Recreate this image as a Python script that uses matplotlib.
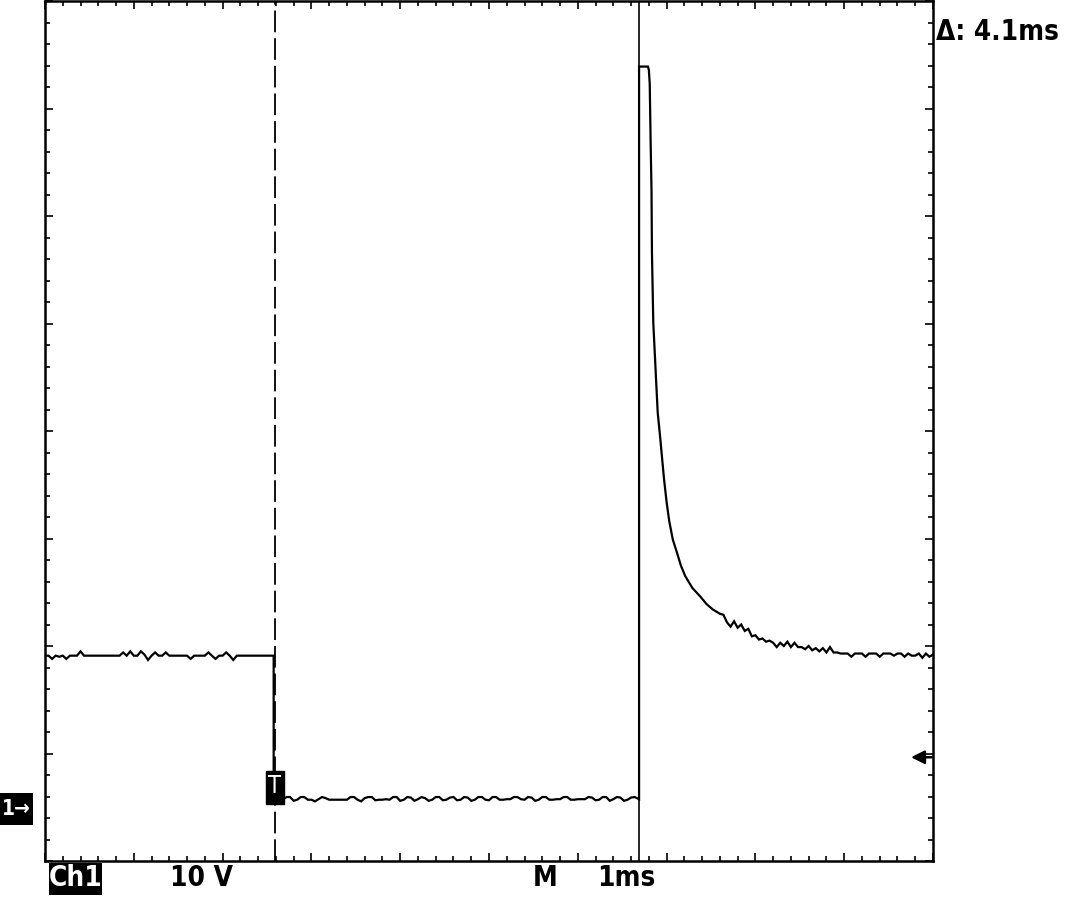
import numpy as np
import matplotlib
matplotlib.use("Agg")
import matplotlib.pyplot as plt
from matplotlib.ticker import MultipleLocator
from matplotlib.patches import Rectangle

FONT = ['DejaVu Sans']
STRETCH = 'condensed'

# ---- data (time in ms, voltage in V) ----
t_min, t_max = 0.0, 10.0
v_min, v_max = -5.0, 75.0
trigger_t = 2.59
cursor_t = 6.685
delta_label = "\u0394: 4.1ms"
ch_label = "Ch1"
volts_label = "10 V"
time_label = "1ms"
trig_level = 4.65

# high level before trigger (sampled every 0.04 ms from 0)
pre_step = 0.04
pre_v = [14.1, 14.1, 13.8, 14.1, 14.0, 14.1, 13.8, 14.1, 14.1, 14.1,
         14.5, 14.1, 14.1, 14.1, 14.1, 14.1, 14.1, 14.1, 14.1, 14.1,
         14.1, 14.1, 14.4, 14.1, 14.5, 14.1, 14.1, 14.5, 14.2, 13.7,
         14.1, 14.4, 14.1, 14.1, 14.4, 14.1, 14.1, 14.1, 14.1, 14.1,
         14.1, 13.8, 14.1, 14.1, 14.1, 14.1, 14.4, 14.1, 13.8, 14.1,
         14.1, 14.4, 14.1, 13.7, 14.1, 14.1, 14.1, 14.1, 14.1, 14.1,
         14.1, 14.1, 14.1, 14.1, 14.1]

# low level after trigger (sampled every 0.04 ms from 2.60)
low_start = 2.60
low_step = 0.04
low_v = [0.75, 0.75, 0.70, 0.95, 0.95, 0.60, 0.70, 0.95, 0.95, 0.70,
         0.70, 0.55, 0.75, 0.95, 0.85, 0.70, 0.70, 0.70, 0.70, 0.70,
         0.70, 0.95, 0.95, 0.70, 0.55, 0.85, 0.95, 0.95, 0.65, 0.70,
         0.70, 0.75, 0.70, 0.95, 0.95, 0.60, 0.70, 0.95, 0.90, 0.60,
         0.75, 0.95, 0.85, 0.60, 0.70, 0.95, 0.95, 0.65, 0.70, 0.90,
         0.95, 0.65, 0.70, 0.95, 0.90, 0.60, 0.70, 0.95, 0.95, 0.70,
         0.65, 0.95, 0.95, 0.70, 0.70, 0.75, 0.75, 0.95, 0.95, 0.75,
         0.70, 0.95, 0.90, 0.60, 0.70, 0.95, 0.95, 0.70, 0.70, 0.75,
         0.75, 0.95, 0.95, 0.70, 0.70, 0.75, 0.75, 0.75, 0.95, 0.90,
         0.65, 0.70, 0.95, 0.95, 0.60, 0.75, 0.95, 0.90, 0.60, 0.70,
         0.90, 0.95]

# pulse and decay
pulse_t = [6.69, 6.69, 6.79, 6.80, 6.81, 6.82, 6.83, 6.835, 6.85, 6.865,
           6.88, 6.90, 6.93, 6.95, 6.97, 7.00, 7.03, 7.07, 7.12, 7.16,
           7.21, 7.29, 7.38, 7.45, 7.52]
pulse_v = [0.75, 68.9, 68.9, 68.6, 67.3, 62.0, 57.4, 51.6, 45.1, 42.5,
           40.0, 36.7, 34.2, 32.4, 30.6, 28.4, 26.6, 24.9, 23.6, 22.5,
           21.5, 20.4, 19.6, 18.9, 18.4]

# tail (sampled every 0.04 ms from 7.56)
tail_start = 7.56
tail_step = 0.04
tail_v = [18.2, 18.0, 17.9, 17.2, 16.8, 17.3, 16.7, 17.0, 16.4, 16.6,
          15.9, 16.0, 15.6, 15.7, 15.4, 15.5, 15.3, 14.9, 15.3, 15.0,
          15.4, 14.9, 15.3, 14.9, 14.9, 14.7, 15.0, 14.6, 14.8, 14.5,
          14.8, 14.4, 14.9, 14.4, 14.4, 14.3, 14.3, 14.3, 14.0, 14.3,
          14.3, 14.3, 14.0, 14.3, 14.3, 14.3, 14.0, 14.3, 14.3, 14.3,
          14.1, 14.3, 14.3, 14.0, 14.3, 14.1, 14.1, 14.3, 13.9, 14.3,
          14.0, 14.2]

# ---- assemble trace ----
pre_t = np.arange(len(pre_v)) * pre_step
low_t = low_start + np.arange(len(low_v)) * low_step
tail_t = tail_start + np.arange(len(tail_v)) * tail_step
edge_t = 2.575
trace_t = np.concatenate([pre_t, [edge_t, edge_t], low_t, pulse_t, tail_t])
trace_v = np.concatenate([pre_v, [pre_v[-1], low_v[0]], low_v, pulse_v, tail_v])

# ---- figure ----
W, H = 1082, 897
fig = plt.figure(figsize=(W / 100, H / 100), dpi=100)
ax = fig.add_axes([45 / W, 1 - 861 / H, 888 / W, 860 / H])
ax.set_xlim(t_min, t_max)
ax.set_ylim(v_min, v_max)

ax.plot(trace_t, trace_v, color='black', lw=1.6, solid_joinstyle='miter')
ax.axvline(cursor_t, color='black', lw=1.2)
ax.axvline(trigger_t, color='black', lw=1.3, dashes=(12, 3.3))

# ticks on the frame
ax.xaxis.set_major_locator(MultipleLocator(1))
ax.xaxis.set_minor_locator(MultipleLocator(0.2))
ax.yaxis.set_major_locator(MultipleLocator(10, offset=5))
ax.yaxis.set_minor_locator(MultipleLocator(2, offset=1))
ax.tick_params(which='both', direction='in', top=True, right=True,
               bottom=True, left=True, labelbottom=False, labelleft=False,
               color='black')
ax.tick_params(which='major', length=6.0, width=1.2)
ax.tick_params(which='minor', length=3.5, width=1.2)
for s in ax.spines.values():
    s.set_linewidth(1.8)

# trigger marker "T"
px_ms = 88.8
ax.add_patch(Rectangle((trigger_t - 9 / px_ms, 0.3), 18 / px_ms, 3.05,
                       facecolor='black', edgecolor='black', zorder=5))
ax.text(trigger_t, 1.95, "T", color='white', fontsize=17, ha='center',
        va='center', family=FONT, fontstretch=STRETCH, zorder=6)

# trigger level arrow at right
ax.annotate("", xy=(t_max - 22 / px_ms, trig_level), xytext=(t_max, trig_level),
            arrowprops=dict(arrowstyle='-|>', color='black', lw=1.8,
                            mutation_scale=20, shrinkA=0, shrinkB=0))

# ---- texts around ----
fig.text(936 / W, 1 - 32 / H, delta_label, fontsize=20, ha='left',
         va='center', family=FONT, fontstretch=STRETCH, weight='bold')

# channel ground marker
fig.patches.append(Rectangle((0, 1 - 825 / H), 33 / W, 32 / H,
                             transform=fig.transFigure, facecolor='black',
                             edgecolor='none'))
fig.text(16 / W, 1 - 809 / H, "1\u2192", color='white', fontsize=15,
         ha='center', va='center', family=FONT, fontstretch=STRETCH,
         weight='bold')

fig.patches.append(Rectangle((49 / W, 1 - 895 / H), 53 / W, 32 / H,
                             transform=fig.transFigure, facecolor='black',
                             edgecolor='none'))
fig.text(75.5 / W, 1 - 878 / H, ch_label, color='white', fontsize=20,
         ha='center', va='center', family=FONT, fontstretch=STRETCH,
         weight='bold')
fig.text(202 / W, 1 - 878 / H, volts_label, fontsize=20, ha='center',
         va='center', family=FONT, fontstretch=STRETCH, weight='bold')
fig.text(545 / W, 1 - 878 / H, "M", fontsize=20, ha='center',
         va='center', family=FONT, fontstretch=STRETCH, weight='bold')
fig.text(626 / W, 1 - 878 / H, time_label, fontsize=20, ha='center',
         va='center', family=FONT, fontstretch=STRETCH, weight='bold')

fig.savefig("out.png", dpi=100)
